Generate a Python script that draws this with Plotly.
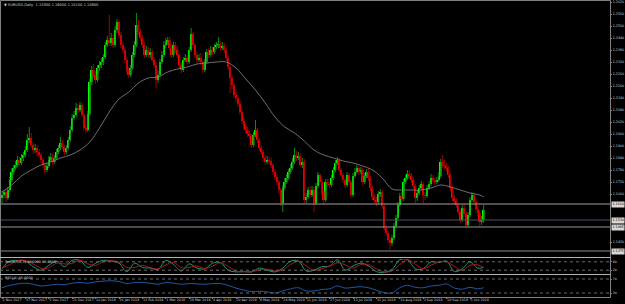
import plotly.graph_objects as go

# ---------------- data ----------------
symbol = "EURUSD,Daily"

date_tick_bars = [0, 12, 24, 36, 48, 60, 72, 84, 96, 108, 120, 132, 144, 156, 168, 180, 192, 204, 216, 228, 240]
date_ticks = ["1 Nov 2017", "17 Nov 2017", "5 Dec 2017", "21 Dec 2017", "10 Jan 2018", "26 Jan 2018",
              "13 Feb 2018", "1 Mar 2018", "19 Mar 2018", "4 Apr 2018", "20 Apr 2018", "8 May 2018",
              "24 May 2018", "11 Jun 2018", "27 Jun 2018", "13 Jul 2018", "31 Jul 2018", "16 Aug 2018",
              "3 Sep 2018", "19 Sep 2018", "5 Oct 2018"]

price_ticks = [1.2620, 1.2560, 1.2500, 1.2440, 1.2380, 1.2320, 1.2260, 1.2200, 1.2140, 1.2080, 1.2020,
               1.1960, 1.1900, 1.1840, 1.1780, 1.1720, 1.1660, 1.1600, 1.1540, 1.1480, 1.1420, 1.1360]

closes = [
1.1655,1.1670,1.1640,1.1680,1.1730,1.1770,1.1790,1.1805,1.1830,1.1815,
1.1840,1.1855,1.1880,1.1930,1.1940,1.1905,1.1880,1.1890,1.1870,1.1855,
1.1830,1.1805,1.1780,1.1800,1.1830,1.1845,1.1820,1.1840,1.1870,1.1890,
1.1915,1.1895,1.1870,1.1890,1.1930,1.1980,1.2040,1.2055,1.2090,1.2080,
1.2105,1.2055,1.1990,1.1980,1.2060,1.2220,1.2280,1.2255,1.2230,1.2290,
1.2305,1.2320,1.2345,1.2405,1.2430,1.2415,1.2440,1.2405,1.2480,1.2520,
1.2455,1.2405,1.2380,1.2330,1.2280,1.2255,1.2290,1.2355,1.2405,1.2505,
1.2470,1.2440,1.2405,1.2355,1.2380,1.2355,1.2370,1.2330,1.2305,1.2230,
1.2255,1.2320,1.2355,1.2405,1.2420,1.2430,1.2390,1.2355,1.2405,1.2380,
1.2355,1.2305,1.2280,1.2330,1.2340,1.2320,1.2380,1.2460,1.2405,1.2355,
1.2330,1.2340,1.2320,1.2280,1.2320,1.2370,1.2355,1.2380,1.2370,1.2395,
1.2405,1.2410,1.2390,1.2400,1.2380,1.2340,1.2295,1.2240,1.2205,1.2155,
1.2140,1.2110,1.2070,1.2025,1.2000,1.1980,1.1960,1.1950,1.1905,1.1955,
1.1980,1.1930,1.1890,1.1870,1.1840,1.1820,1.1830,1.1825,1.1805,1.1770,
1.1745,1.1720,1.1680,1.1615,1.1690,1.1720,1.1740,1.1770,1.1790,1.1820,
1.1855,1.1840,1.1850,1.1805,1.1820,1.1630,1.1645,1.1680,1.1655,1.1680,
1.1615,1.1700,1.1755,1.1720,1.1670,1.1630,1.1720,1.1710,1.1705,1.1740,
1.1780,1.1815,1.1830,1.1780,1.1755,1.1730,1.1705,1.1755,1.1720,1.1655,
1.1750,1.1770,1.1790,1.1770,1.1780,1.1720,1.1750,1.1770,1.1740,1.1690,
1.1645,1.1630,1.1620,1.1660,1.1670,1.1600,1.1490,1.1465,1.1430,1.1415,
1.1440,1.1500,1.1540,1.1605,1.1650,1.1635,1.1720,1.1740,1.1760,1.1750,
1.1730,1.1700,1.1640,1.1665,1.1690,1.1710,1.1655,1.1650,1.1690,1.1710,
1.1740,1.1730,1.1720,1.1730,1.1750,1.1820,1.1805,1.1800,1.1790,1.1755,
1.1690,1.1640,1.1625,1.1605,1.1570,1.1530,1.1590,1.1560,1.1505,1.1555,
1.1630,1.1655,1.1620,1.1585,1.1565,1.1520,1.1530,1.1580]

opens = [
1.1640,1.1655,1.1670,1.1640,1.1680,1.1730,1.1770,1.1790,1.1805,1.1830,
1.1815,1.1840,1.1855,1.1880,1.1930,1.1940,1.1905,1.1880,1.1890,1.1870,
1.1855,1.1830,1.1805,1.1780,1.1800,1.1830,1.1845,1.1820,1.1840,1.1870,
1.1890,1.1915,1.1895,1.1870,1.1890,1.1930,1.1980,1.2040,1.2055,1.2090,
1.2080,1.2105,1.2055,1.1990,1.1980,1.2060,1.2220,1.2280,1.2255,1.2230,
1.2290,1.2305,1.2320,1.2345,1.2405,1.2430,1.2415,1.2440,1.2405,1.2480,
1.2520,1.2455,1.2405,1.2380,1.2330,1.2280,1.2255,1.2290,1.2355,1.2405,
1.2505,1.2470,1.2440,1.2405,1.2355,1.2380,1.2355,1.2370,1.2330,1.2305,
1.2230,1.2255,1.2320,1.2355,1.2405,1.2420,1.2430,1.2390,1.2355,1.2405,
1.2380,1.2355,1.2305,1.2280,1.2330,1.2340,1.2320,1.2380,1.2460,1.2405,
1.2355,1.2330,1.2340,1.2320,1.2280,1.2320,1.2370,1.2355,1.2380,1.2370,
1.2395,1.2405,1.2410,1.2390,1.2400,1.2380,1.2340,1.2295,1.2240,1.2205,
1.2155,1.2140,1.2110,1.2070,1.2025,1.2000,1.1980,1.1960,1.1950,1.1905,
1.1955,1.1980,1.1930,1.1890,1.1870,1.1840,1.1820,1.1830,1.1825,1.1805,
1.1770,1.1745,1.1720,1.1680,1.1615,1.1690,1.1720,1.1740,1.1770,1.1790,
1.1820,1.1855,1.1840,1.1850,1.1805,1.1820,1.1630,1.1645,1.1680,1.1655,
1.1680,1.1615,1.1700,1.1755,1.1720,1.1670,1.1630,1.1720,1.1710,1.1705,
1.1740,1.1780,1.1815,1.1830,1.1780,1.1755,1.1730,1.1705,1.1755,1.1720,
1.1655,1.1750,1.1770,1.1790,1.1770,1.1780,1.1720,1.1750,1.1770,1.1740,
1.1690,1.1645,1.1630,1.1620,1.1660,1.1670,1.1600,1.1490,1.1465,1.1430,
1.1415,1.1440,1.1500,1.1540,1.1605,1.1650,1.1635,1.1720,1.1740,1.1760,
1.1750,1.1730,1.1700,1.1640,1.1665,1.1690,1.1710,1.1655,1.1650,1.1690,
1.1710,1.1740,1.1730,1.1720,1.1730,1.1750,1.1820,1.1805,1.1800,1.1790,
1.1755,1.1690,1.1640,1.1625,1.1605,1.1570,1.1530,1.1590,1.1560,1.1505,
1.1555,1.1630,1.1655,1.1620,1.1585,1.1565,1.1520,1.1530]

highs = [
1.1675,1.1680,1.1685,1.1695,1.1745,1.1790,1.1805,1.1825,1.1850,1.1845,
1.1860,1.1870,1.1900,1.1960,1.1995,1.1965,1.1920,1.1910,1.1905,1.1885,
1.1865,1.1840,1.1815,1.1815,1.1850,1.1865,1.1860,1.1855,1.1885,1.1905,
1.1945,1.1930,1.1905,1.1905,1.1945,1.2000,1.2060,1.2075,1.2115,1.2110,
1.2120,1.2115,1.2065,1.2005,1.2075,1.2235,1.2300,1.2310,1.2275,1.2305,
1.2325,1.2340,1.2360,1.2420,1.2450,1.2555,1.2465,1.2460,1.2500,1.2535,
1.2530,1.2470,1.2420,1.2395,1.2345,1.2295,1.2305,1.2370,1.2425,1.2565,
1.2530,1.2485,1.2455,1.2420,1.2400,1.2395,1.2390,1.2385,1.2345,1.2320,
1.2275,1.2335,1.2375,1.2425,1.2440,1.2445,1.2445,1.2405,1.2420,1.2420,
1.2395,1.2365,1.2320,1.2345,1.2360,1.2355,1.2395,1.2490,1.2470,1.2415,
1.2370,1.2360,1.2365,1.2330,1.2335,1.2385,1.2390,1.2400,1.2395,1.2410,
1.2420,1.2445,1.2425,1.2420,1.2415,1.2390,1.2350,1.2305,1.2255,1.2215,
1.2170,1.2155,1.2120,1.2080,1.2040,1.2015,1.1995,1.1975,1.1960,1.1970,
1.2030,1.1990,1.1940,1.1900,1.1880,1.1855,1.1850,1.1845,1.1840,1.1815,
1.1785,1.1760,1.1730,1.1690,1.1705,1.1740,1.1760,1.1785,1.1810,1.1840,
1.1890,1.1875,1.1870,1.1865,1.1840,1.1835,1.1665,1.1695,1.1700,1.1700,
1.1695,1.1715,1.1770,1.1765,1.1730,1.1680,1.1735,1.1735,1.1725,1.1755,
1.1795,1.1830,1.1845,1.1840,1.1790,1.1765,1.1740,1.1770,1.1765,1.1730,
1.1765,1.1790,1.1805,1.1800,1.1795,1.1790,1.1765,1.1785,1.1790,1.1750,
1.1700,1.1660,1.1645,1.1675,1.1685,1.1680,1.1610,1.1505,1.1475,1.1445,
1.1455,1.1515,1.1555,1.1620,1.1665,1.1670,1.1735,1.1755,1.1780,1.1775,
1.1765,1.1740,1.1710,1.1680,1.1705,1.1725,1.1720,1.1670,1.1705,1.1725,
1.1760,1.1755,1.1745,1.1745,1.1770,1.1835,1.1855,1.1830,1.1815,1.1800,
1.1765,1.1700,1.1655,1.1640,1.1615,1.1580,1.1605,1.1610,1.1570,1.1570,
1.1645,1.1670,1.1665,1.1630,1.1600,1.1575,1.1550,1.1605]

lows = [
1.1615,1.1640,1.1620,1.1630,1.1670,1.1720,1.1755,1.1780,1.1795,1.1800,
1.1805,1.1825,1.1845,1.1870,1.1915,1.1890,1.1860,1.1865,1.1850,1.1840,
1.1815,1.1790,1.1760,1.1770,1.1790,1.1820,1.1805,1.1810,1.1830,1.1860,
1.1880,1.1880,1.1855,1.1860,1.1880,1.1920,1.1970,1.2030,1.2045,1.2065,
1.2070,1.2045,1.1975,1.1965,1.1970,1.2050,1.2205,1.2240,1.2210,1.2220,
1.2275,1.2290,1.2305,1.2335,1.2395,1.2400,1.2400,1.2390,1.2395,1.2465,
1.2440,1.2390,1.2365,1.2315,1.2265,1.2240,1.2245,1.2280,1.2345,1.2395,
1.2455,1.2425,1.2390,1.2340,1.2345,1.2340,1.2340,1.2320,1.2290,1.2190,
1.2215,1.2245,1.2310,1.2345,1.2390,1.2405,1.2375,1.2340,1.2345,1.2365,
1.2340,1.2290,1.2265,1.2270,1.2320,1.2305,1.2310,1.2370,1.2390,1.2340,
1.2315,1.2320,1.2305,1.2265,1.2270,1.2310,1.2340,1.2345,1.2355,1.2360,
1.2385,1.2390,1.2375,1.2380,1.2365,1.2325,1.2280,1.2165,1.2185,1.2140,
1.2120,1.2095,1.2055,1.2010,1.1985,1.1965,1.1945,1.1935,1.1890,1.1895,
1.1945,1.1915,1.1875,1.1855,1.1825,1.1805,1.1810,1.1810,1.1790,1.1755,
1.1730,1.1705,1.1665,1.1600,1.1570,1.1680,1.1710,1.1730,1.1760,1.1780,
1.1810,1.1825,1.1830,1.1795,1.1790,1.1615,1.1615,1.1635,1.1640,1.1645,
1.1570,1.1605,1.1690,1.1705,1.1655,1.1605,1.1620,1.1695,1.1690,1.1695,
1.1730,1.1770,1.1805,1.1770,1.1740,1.1715,1.1690,1.1695,1.1705,1.1640,
1.1645,1.1740,1.1760,1.1755,1.1760,1.1705,1.1710,1.1740,1.1725,1.1675,
1.1630,1.1615,1.1600,1.1610,1.1645,1.1585,1.1475,1.1450,1.1415,1.1380,
1.1400,1.1430,1.1490,1.1530,1.1595,1.1620,1.1625,1.1710,1.1730,1.1735,
1.1715,1.1685,1.1615,1.1625,1.1655,1.1680,1.1615,1.1630,1.1640,1.1680,
1.1700,1.1715,1.1705,1.1710,1.1720,1.1740,1.1790,1.1785,1.1775,1.1740,
1.1675,1.1625,1.1610,1.1590,1.1555,1.1515,1.1520,1.1545,1.1490,1.1495,
1.1545,1.1620,1.1605,1.1570,1.1550,1.1495,1.1505,1.1515]

ma_bars = list(range(0, 246, 5)) + [247]
ma_values = [1.1670, 1.1705, 1.1750, 1.1780, 1.1805, 1.1820, 1.1840, 1.1855, 1.1880, 1.1920,
             1.1990, 1.2070, 1.2135, 1.2170, 1.2215, 1.2240, 1.2245, 1.2270, 1.2285, 1.2295,
             1.2310, 1.2315, 1.2320, 1.2320, 1.2290, 1.2235, 1.2180, 1.2115, 1.2045, 1.1995,
             1.1965, 1.1925, 1.1880, 1.1855, 1.1840, 1.1825, 1.1815, 1.1800, 1.1780, 1.1740,
             1.1685, 1.1680, 1.1680, 1.1680, 1.1690, 1.1705, 1.1695, 1.1680, 1.1665, 1.1655, 1.1645]

osc_bars = list(range(0, 245, 4)) + [247]
stoch_main = [30, 85, 90, 85, 45, 20, 55, 85, 45, 90, 90, 40, 70, 90, 85, 70, 10, 70, 40, 35,
              25, 90, 60, 15, 65, 35, 30, 70, 75, 20, 8, 10, 8, 35, 20, 8, 35, 85, 85, 15,
              20, 45, 50, 95, 20, 50, 70, 50, 10, 5, 25, 95, 95, 30, 30, 80, 75, 85, 10, 30,
              80, 35, 40]
stoch_signal = [35, 60, 88, 88, 65, 35, 38, 70, 65, 68, 90, 65, 55, 80, 88, 78, 40, 40, 55, 38,
                30, 58, 75, 38, 40, 50, 32, 50, 72, 48, 14, 9, 9, 22, 28, 14, 22, 60, 85, 50,
                18, 32, 48, 72, 58, 35, 60, 60, 30, 8, 15, 60, 95, 62, 30, 55, 78, 80, 48, 20,
                55, 58, 38]
rsi_values = [45, 52, 56, 58, 55, 50, 52, 55, 54, 58, 60, 58, 62, 64, 65, 63, 57, 60, 60, 58,
              55, 60, 58, 55, 57, 56, 55, 57, 57, 52, 44, 38, 34, 35, 33, 30, 36, 42, 45, 36,
              36, 40, 42, 50, 44, 46, 48, 45, 38, 31, 30, 45, 52, 46, 45, 50, 52, 56, 44, 41,
              46, 42, 45]

hline_levels = [1.1610, 1.1530, 1.1495, 1.1375]
stoch_levels = [80, 20]
rsi_levels = [70, 30]

# ---------------- styles ----------------
W, H = 625, 304
PLOT_R = 610
hline_colors = ["#a0a0a0", "#4c5262", "#969696", "#8a8a8a"]
TXT = "#d2d2d2"
FONT = "DejaVu Sans"


def py(p):  # pixel row -> paper fraction
    return 1 - p / H


# axis labels hidden behind the horizontal-line price boxes are not drawn
shown_ticks = [v for v in price_ticks if min(abs(v - l) for l in hline_levels) > 0.0017]

n = len(closes)
up_x, up_b, up_h, dn_x, dn_b, dn_h = [], [], [], [], [], []
wu_x, wu_y, wd_x, wd_y = [], [], [], []
for i in range(n):
    o, c, hi, lo = opens[i], closes[i], highs[i], lows[i]
    if c >= o:
        up_x.append(i); up_b.append(o); up_h.append(c - o)
        wu_x += [i, i, None]; wu_y += [lo, hi, None]
    else:
        dn_x.append(i); dn_b.append(c); dn_h.append(o - c)
        wd_x += [i, i, None]; wd_y += [lo, hi, None]

fig = go.Figure()
fig.add_trace(go.Scatter(x=wu_x, y=wu_y, mode="lines", line=dict(color="#0f8a0f", width=1), hoverinfo="skip"))
fig.add_trace(go.Scatter(x=wd_x, y=wd_y, mode="lines", line=dict(color="#a00000", width=1), hoverinfo="skip"))
fig.add_trace(go.Bar(x=up_x, y=up_h, base=up_b, width=0.8, marker=dict(color="#00ff00", line=dict(width=0))))
fig.add_trace(go.Bar(x=dn_x, y=dn_h, base=dn_b, width=0.8, marker=dict(color="#ff0000", line=dict(width=0))))
fig.add_trace(go.Scatter(x=ma_bars, y=ma_values, mode="lines", line=dict(color="#7c7c7c", width=0.9, shape="spline")))

fig.add_trace(go.Scatter(x=osc_bars, y=stoch_main, yaxis="y2", mode="lines",
                         line=dict(color="#1f9a72", width=1, shape="spline")))
fig.add_trace(go.Scatter(x=osc_bars, y=stoch_signal, yaxis="y2", mode="lines",
                         line=dict(color="#b01818", width=1, shape="spline")))
fig.add_trace(go.Scatter(x=osc_bars, y=rsi_values, yaxis="y3", mode="lines",
                         line=dict(color="#1d5aa6", width=1, shape="spline")))

shapes = []
for lvl, col in zip(hline_levels, hline_colors):
    shapes.append(dict(type="line", xref="x domain", yref="y", x0=0, x1=1, y0=lvl, y1=lvl,
                       line=dict(color=col, width=1)))
for lvl in stoch_levels:
    shapes.append(dict(type="line", xref="x domain", yref="y2", x0=0, x1=1, y0=lvl, y1=lvl,
                       line=dict(color="#6a6a6a", width=1, dash="dot")))
for lvl in rsi_levels:
    shapes.append(dict(type="line", xref="x domain", yref="y3", x0=0, x1=1, y0=lvl, y1=lvl,
                       line=dict(color="#6a6a6a", width=1, dash="dot")))
# window frames
shapes.append(dict(type="rect", xref="paper", yref="paper", x0=0.5 / W, x1=(PLOT_R + 0.5) / W,
                   y0=py(297.5), y1=py(0.5), line=dict(color="#808080", width=1)))
for row in (257.5, 274.5):
    shapes.append(dict(type="line", xref="paper", yref="paper", x0=0, x1=(PLOT_R + 0.5) / W,
                       y0=py(row), y1=py(row), line=dict(color="#b4b4b4", width=1)))

annotations = [
    dict(xref="paper", yref="paper", x=2 / W, y=py(5), xanchor="left", yanchor="middle", showarrow=False,
         text="▼ %s  %.5f %.5f %.5f %.5f" % (symbol, opens[-1], highs[-1], lows[-1], closes[-1]),
         font=dict(size=3.6, color=TXT, family=FONT)),
    dict(xref="paper", yref="paper", x=3 / W, y=py(261.5), xanchor="left", yanchor="middle", showarrow=False,
         text="Stoch(5,3,3) %.4f %.4f" % (stoch_main[-1], stoch_signal[-1]),
         font=dict(size=3.4, color=TXT, family=FONT)),
    dict(xref="paper", yref="paper", x=3 / W, y=py(277.5), xanchor="left", yanchor="middle", showarrow=False,
         text="RSI(14) %.4f" % rsi_values[-1], font=dict(size=3.4, color=TXT, family=FONT)),
]
for lvl in hline_levels:
    annotations.append(dict(xref="paper", yref="y", x=(PLOT_R + 1) / W, y=lvl, xanchor="left", yanchor="middle",
                            showarrow=False, text="%.4f" % lvl, bgcolor="#d8d8d8", borderpad=0.4,
                            font=dict(size=3.3, color="#000000", family=FONT)))

tickfont = dict(size=3.3, color=TXT, family=FONT)
fig.update_layout(
    width=W, height=H, margin=dict(l=0, r=0, t=0, b=0, autoexpand=False),
    paper_bgcolor="#000000", plot_bgcolor="#000000",
    showlegend=False, barmode="overlay", hovermode=False,
    shapes=shapes, annotations=annotations,
    xaxis=dict(domain=[0, PLOT_R / W], range=[-2 / 1.95, -2 / 1.95 + PLOT_R / 1.95], anchor="y3",
               tickmode="array", tickvals=date_tick_bars, ticktext=date_ticks, tickangle=0,
               ticklabelposition="outside right", ticks="outside", ticklen=2, tickcolor="#808080",
               tickfont=dict(size=3.3, color=TXT, family=FONT), automargin=False,
               showgrid=False, zeroline=False, showline=False, fixedrange=True),
    yaxis=dict(domain=[py(257), py(2)], range=[1.1345, 1.2620], side="right", anchor="x",
               tickmode="array", tickvals=shown_ticks, ticktext=["%.4f" % v for v in shown_ticks],
               ticks="outside", ticklen=1, tickcolor="#808080", tickfont=tickfont, automargin=False,
               showgrid=False, zeroline=False, showline=False, fixedrange=True),
    yaxis2=dict(domain=[py(273), py(259)], range=[0, 100], side="right", anchor="x",
                tickmode="array", tickvals=stoch_levels, ticktext=[str(v) for v in stoch_levels],
                ticks="outside", ticklen=1, tickcolor="#808080", automargin=False,
                tickfont=dict(size=3.2, color=TXT, family=FONT),
                showgrid=False, zeroline=False, showline=False, fixedrange=True),
    yaxis3=dict(domain=[py(296), py(275)], range=[21.43, 81.43], side="right", anchor="x",
                tickmode="array", tickvals=rsi_levels, ticktext=[str(v) for v in rsi_levels],
                ticks="outside", ticklen=1, tickcolor="#808080", automargin=False,
                tickfont=dict(size=3.2, color=TXT, family=FONT),
                showgrid=False, zeroline=False, showline=False, fixedrange=True),
)

fig.write_html("out.html", config={"displayModeBar": False})
